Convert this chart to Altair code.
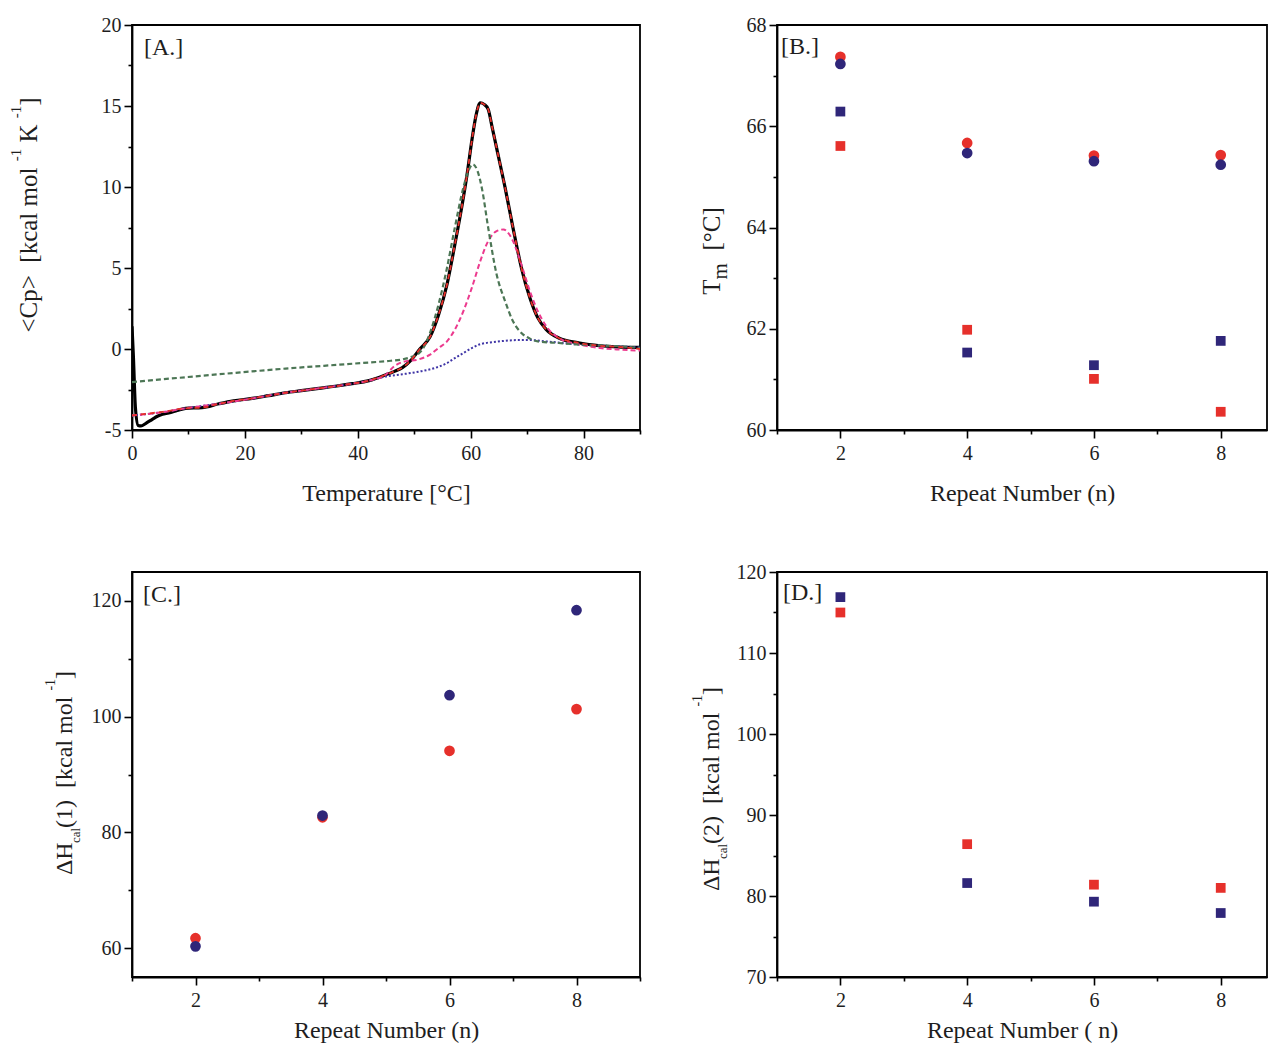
import altair as alt
import pandas as pd

FONT = "Liberation Serif"
TXT = "#1e1e1e"
RED = "#e6302b"
NAVY = "#2f2679"

# ---------------- Panel A : DSC curve ----------------
exp_T = [0, 0.25, 0.6, 1.1, 1.6, 2.4, 3.6, 4.5, 5.4, 6.5, 8.0, 9.5, 12.4, 15.4, 18.0, 21.3,
         24.2, 27.2, 30.0, 33.1, 36.0, 39.0, 42.0, 44.9, 46.5, 47.9, 49.4, 51.0, 52.8, 54.3,
         55.8, 57.2, 58.7, 59.5, 60.2, 61.0, 61.7, 62.4, 63.1, 63.8, 64.6, 66.1, 67.5, 69.0,
         70.5, 71.9, 73.4, 75.6, 79.3, 82.9, 86.6, 90.0]
exp_Cp = [1.4, -0.5, -3.6, -4.72, -4.75, -4.6, -4.34, -4.15, -4.03, -3.95, -3.8, -3.66, -3.62,
          -3.38, -3.2, -3.05, -2.88, -2.7, -2.57, -2.43, -2.3, -2.14, -1.95, -1.6, -1.38, -1.15,
          -0.7, 0.0, 0.75, 2.1, 3.98, 6.45, 9.34, 11.1, 12.85, 14.5, 15.2, 15.1, 14.8, 13.7,
          12.4, 9.96, 7.48, 5.0, 3.15, 1.92, 1.2, 0.68, 0.37, 0.2, 0.12, 0.1]

fit_T = [0, 2.4, 5.4, 9.5, 12.4, 15.4, 18.0, 21.3, 24.2, 27.2, 30.0, 33.1, 36.0, 39.0, 42.0,
         44.9, 46.5, 47.9, 49.4, 51.0, 52.8, 54.3, 55.8, 57.2, 58.7, 59.5, 60.2, 61.0, 61.7,
         62.4, 63.1, 63.8, 64.6, 66.1, 67.5, 69.0, 70.5, 71.9, 73.4, 75.6, 79.3, 82.9, 86.6, 90.0]
fit_Cp = [-4.1, -4.0, -3.88, -3.66, -3.62, -3.38, -3.2, -3.05, -2.88, -2.7, -2.57, -2.43, -2.3,
          -2.14, -1.95, -1.6, -1.38, -1.15, -0.7, 0.0, 0.75, 2.1, 3.98, 6.45, 9.34, 11.1, 12.85,
          14.5, 15.2, 15.1, 14.8, 13.7, 12.4, 9.96, 7.48, 5.0, 3.15, 1.92, 1.2, 0.68, 0.37, 0.2,
          0.12, 0.0]

comp1_T = [0, 15.4, 27.2, 39.0, 45.0, 47.9, 49.4, 50.8, 52.0, 52.8, 54.3, 55.8, 57.2, 58.7,
           59.6, 60.4, 61.2, 62.0, 63.1, 64.6, 66.1, 67.5, 69.0, 70.5, 71.9, 75.6, 79.3, 86.6, 90.0]
comp1_Cp = [-2.04, -1.56, -1.21, -0.91, -0.75, -0.64, -0.5, -0.27, 0.3, 1.0, 2.74, 5.0, 7.5,
            9.96, 11.0, 11.4, 11.0, 9.9, 7.5, 4.6, 2.95, 1.71, 0.99, 0.64, 0.47, 0.37, 0.27,
            0.16, 0.06]

comp2_T = [0, 5.4, 9.5, 15.4, 21.3, 27.2, 33.1, 39.0, 42.0, 44.9, 46.5, 48.0, 50.8, 52.8, 54.3,
           55.8, 57.2, 58.7, 60.2, 61.7, 63.1, 64.6, 65.8, 66.8, 67.5, 69.0, 70.5, 71.9, 73.4,
           75.6, 79.3, 82.9, 86.6, 90.0]
comp2_Cp = [-4.1, -3.9, -3.66, -3.38, -3.05, -2.7, -2.43, -2.14, -1.95, -1.6, -1.05, -0.8,
            -0.64, -0.35, 0.06, 0.47, 1.2, 2.33, 3.77, 5.42, 6.66, 7.28, 7.38, 7.1, 6.66, 5.2,
            3.57, 2.33, 1.4, 0.68, 0.27, 0.06, -0.04, -0.1]

base_T = [0, 5.4, 9.5, 15.4, 21.3, 27.2, 33.1, 39.0, 42.0, 44.9, 47.9, 50.8, 53.6, 55.8, 57.2,
          58.7, 60.2, 61.7, 64.6, 68.3, 70.5, 73.4, 79.3, 86.6, 90.0]
base_Cp = [-4.1, -3.9, -3.66, -3.38, -3.05, -2.7, -2.43, -2.14, -1.95, -1.7, -1.56, -1.4, -1.18,
           -0.87, -0.56, -0.25, 0.06, 0.3, 0.45, 0.55, 0.55, 0.47, 0.27, 0.16, 0.1]

# ---------------- Panels B, C, D ----------------
repeat_n = [2, 4, 6, 8]
tm_circle_red = [67.37, 65.67, 65.42, 65.43]
tm_circle_navy = [67.23, 65.47, 65.31, 65.24]
tm_square_red = [65.61, 61.98, 61.01, 60.36]
tm_square_navy = [66.29, 61.53, 61.28, 61.76]

dh1_red = [61.7, 82.6, 94.1, 101.3]
dh1_navy = [60.3, 82.9, 103.7, 118.4]

dh2_red = [115.0, 86.4, 81.4, 81.0]
dh2_navy = [116.9, 81.6, 79.3, 77.9]

# ---------------- helpers ----------------
W = {' ': 250, '<': 564, '>': 564, 'C': 667, 'p': 500, '[': 333, ']': 333, 'k': 500, 'c': 444,
     'a': 444, 'l': 278, 'm': 778, 'o': 500, '-': 333, '1': 500, '2': 500, 'K': 722, 'T': 611,
     '°': 400, 'Δ': 612, 'H': 722, '(': 333, ')': 333}


def tw(s, fs):
    return sum(W.get(ch, 500) for ch in s) * fs / 1000.0


def rich_title(pieces, base_x, center_y):
    total = sum(tw(t, fs) for t, fs, dx in pieces)
    pos = center_y + total / 2.0
    layers = []
    for t, fs, dx in pieces:
        lead = len(t) - len(t.lstrip(' '))
        y = pos - tw(' ' * lead, fs)
        layers.append(
            alt.Chart(pd.DataFrame({"t": [t.strip()]}))
            .mark_text(angle=270, align="left", baseline="alphabetic", font=FONT,
                       fontSize=fs, color=TXT)
            .encode(text="t:N", x=alt.value(base_x + dx), y=alt.value(y))
        )
        pos -= tw(t, fs)
    return layers


def panel_label(text, x, y):
    return (alt.Chart(pd.DataFrame({"t": [text]}))
            .mark_text(align="left", baseline="alphabetic", font=FONT, fontSize=24, color=TXT)
            .encode(text="t:N", x=alt.value(x), y=alt.value(y)))


def make_axis(values, major_test, title=None, title_pad=18, label_pad=3):
    kw = dict(values=values,
              labelExpr=f"({major_test}) ? '' + datum.value : ''",
              tickSize={"condition": {"test": major_test, "value": 8}, "value": 4},
              labelFlush=False, labelOverlap=False, titlePadding=title_pad,
              labelPadding=label_pad)
    kw["title"] = title
    return alt.Axis(**kw)


# ---------------- Panel A ----------------
frames = []
for name, T, C in [("exp", exp_T, exp_Cp), ("fit", fit_T, fit_Cp), ("c1", comp1_T, comp1_Cp),
                   ("c2", comp2_T, comp2_Cp), ("base", base_T, base_Cp)]:
    frames.append(pd.DataFrame({"T": T, "Cp": C, "series": name}))
dfA = pd.concat(frames, ignore_index=True)

xA = alt.X("T:Q", scale=alt.Scale(domain=[0, 90], nice=False, zero=False),
           axis=make_axis(list(range(0, 91, 10)), "datum.value % 20 == 0", "Temperature [°C]",
                          title_pad=18, label_pad=5))
yA = alt.Y("Cp:Q", scale=alt.Scale(domain=[-5, 20], nice=False, zero=False),
           axis=make_axis([-5 + 2.5 * i for i in range(11)], "datum.value % 5 == 0"))


def lineA(series, color, width, dash=None):
    props = dict(color=color, strokeWidth=width, interpolate="monotone", clip=True)
    if dash:
        props["strokeDash"] = dash
    return (alt.Chart(dfA).transform_filter(alt.datum.series == series)
            .mark_line(**props).encode(x=xA, y=yA))


panelA = alt.layer(
    lineA("exp", "#000000", 3.2),
    lineA("base", "#3f35a6", 2.0, [2, 2]),
    lineA("c2", "#ec3a8e", 2.0, [5, 3]),
    lineA("c1", "#4c7655", 2.2, [5, 3]),
    lineA("fit", RED, 1.8, [5, 4]),
    *rich_title([("<Cp>", 25, 0), ("  [kcal mol ", 25, 0), ("-1", 15, -16), (" K ", 25, 0),
                 ("-1", 15, -16), ("]", 25, 0)], -95, 190),
    panel_label("[A.]", 12, 30),
).properties(width=508, height=405)


# ---------------- scatter helpers ----------------
def scatter_panel(df, xdom, ydom, yvals, ytest, xtitle, layers_spec, title_layers, label,
                  width, title_pad=18):
    xs = alt.X("n:Q", scale=alt.Scale(domain=xdom, nice=False, zero=False),
               axis=make_axis([v for v in range(1, 10) if v <= xdom[1]], "datum.value % 2 == 0",
                              xtitle, title_pad, 5))
    ys = alt.Y("v:Q", scale=alt.Scale(domain=ydom, nice=False, zero=False),
               axis=make_axis(yvals, ytest))
    layers = []
    for series, shape, color, size in layers_spec:
        layers.append(
            alt.Chart(df).transform_filter(alt.datum.s == series)
            .mark_point(shape=shape, filled=True, color=color, size=size, opacity=1,
                        strokeWidth=0)
            .encode(x=xs, y=ys)
        )
    return alt.layer(*layers, *title_layers, label).properties(width=width, height=405)


def long_df(pairs):
    fr = []
    for name, vals in pairs:
        fr.append(pd.DataFrame({"n": repeat_n, "v": vals, "s": name}))
    return pd.concat(fr, ignore_index=True)


dfB = long_df([("cr", tm_circle_red), ("cn", tm_circle_navy),
               ("sr", tm_square_red), ("sn", tm_square_navy)])
dfC = long_df([("cr", dh1_red), ("cn", dh1_navy)])
dfD = long_df([("sr", dh2_red), ("sn", dh2_navy)])

CIRC = 115
SQ = 95

panelB = scatter_panel(
    dfB, [1, 8.73], [60, 68], list(range(60, 69)), "datum.value % 2 == 0",
    "Repeat Number (n)",
    [("cr", "circle", RED, CIRC), ("cn", "circle", NAVY, CIRC),
     ("sr", "square", RED, SQ), ("sn", "square", NAVY, SQ)],
    rich_title([("T", 25, 0), ("m", 21, 7), ("  [°C]", 25, 0)], -57, 226),
    panel_label("[B.]", 4, 29), 490)

panelC = scatter_panel(
    dfC, [1, 9], [55, 125], list(range(60, 121, 10)), "datum.value % 20 == 0",
    "Repeat Number (n)",
    [("cr", "circle", RED, CIRC), ("cn", "circle", NAVY, CIRC)],
    rich_title([("ΔH", 24, 0), ("cal", 13, 8), ("(1)", 24, 0), ("  [kcal mol ", 24, 0),
                ("-1", 14, -17), ("]", 24, 0)], -60, 201),
    panel_label("[C.]", 11, 30), 508, title_pad=8)

panelD = scatter_panel(
    dfD, [1, 8.73], [70, 120], list(range(70, 121, 5)), "datum.value % 10 == 0",
    "Repeat Number ( n)",
    [("sr", "square", RED, SQ), ("sn", "square", NAVY, SQ)],
    rich_title([("ΔH", 24, 0), ("cal", 13, 8), ("(2)", 24, 0), ("  [kcal mol ", 24, 0),
                ("-1", 14, -17), ("]", 24, 0)], -58, 217),
    panel_label("[D.]", 6, 28), 490, title_pad=8)

chart = (
    alt.concat(panelA, panelB, panelC, panelD, columns=2,
               spacing={"row": 55, "column": 48})
    .properties(padding={"left": 0, "top": 6, "right": 0, "bottom": 0}, background="white")
    .configure_axis(domainColor="black", domainWidth=1.8, tickColor="black", tickWidth=1.6,
                    labelFont=FONT, labelFontSize=20, labelColor=TXT,
                    titleFont=FONT, titleFontSize=24, titleFontWeight="normal", titleColor=TXT,
                    grid=False)
    .configure_view(stroke="black", strokeWidth=1.8)
)

chart.save("out.html", embed_options={"renderer": "svg", "actions": False})
